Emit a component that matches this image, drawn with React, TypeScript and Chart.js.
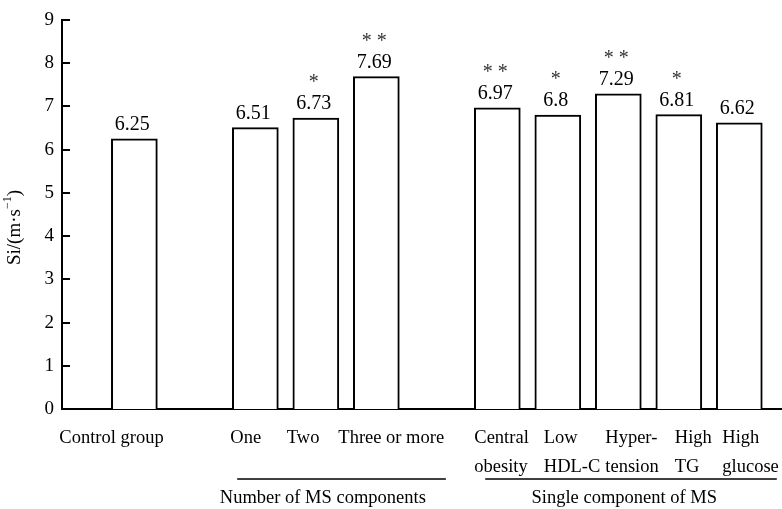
import React, { useEffect, useRef } from 'react';
import { Chart, registerables } from 'chart.js';

Chart.register(...registerables);

// ---- data ----
const categoryLabels: string[][] = [
  ['Control group'],
  ['One'],
  ['Two'],
  ['Three or more'],
  ['Central', 'obesity'],
  ['Low', 'HDL-C'],
  ['Hyper-', 'tension'],
  ['High', 'TG'],
  ['High', 'glucose'],
];
// category slot index on the x axis (gaps separate the groups)
const categorySlots = [0, 2, 3, 4, 6, 7, 8, 9, 10];
const siValues = [6.25, 6.51, 6.73, 7.69, 6.97, 6.8, 7.29, 6.81, 6.62];
const valueLabels = ['6.25', '6.51', '6.73', '7.69', '6.97', '6.8', '7.29', '6.81', '6.62'];
const significance = ['', '', '*', '* *', '* *', '*', '* *', '*', ''];
const groupNames = ['Number of MS components', 'Single component of MS'];
const groupMembers = [
  [1, 2, 3],
  [4, 5, 6, 7, 8],
];
const yTickValues = [0, 1, 2, 3, 4, 5, 6, 7, 8, 9];

// ---- layout / style ----
const FONT = '"Liberation Serif", "Times New Roman", serif';
const X_MIN = -1.196;
const X_MAX = 10.706;
// left edge (px) of each category label relative to its bar centre
const LABEL_LEFT = [-75, -25, -29, -38, -23, -14, -13, -4, -17];
const GROUP_LINE_EXT = [
  [-0.3, 1.15],
  [-0.2, 0.62],
];
const GROUP_TEXT_SHIFT = [7, 6];

const overlayPlugin = {
  id: 'overlay',
  afterDraw(chart: any) {
    const { ctx, chartArea, scales } = chart;
    const x = scales.x;
    const y = scales.y;
    ctx.save();

    // inward y tick marks
    ctx.strokeStyle = '#000';
    ctx.lineWidth = 2;
    for (const v of yTickValues) {
      const py = Math.round(y.getPixelForValue(v));
      ctx.beginPath();
      ctx.moveTo(chartArea.left, py);
      ctx.lineTo(chartArea.left + 8, py);
      ctx.stroke();
    }

    // category labels
    ctx.fillStyle = '#000';
    ctx.font = `18.5px ${FONT}`;
    ctx.textAlign = 'left';
    ctx.textBaseline = 'alphabetic';
    categoryLabels.forEach((lines, i) => {
      const lx = x.getPixelForValue(categorySlots[i]) + LABEL_LEFT[i];
      lines.forEach((line, j) => {
        ctx.fillText(line, lx, chartArea.bottom + 34 + j * 29);
      });
    });

    // value labels and significance marks
    const meta = chart.getDatasetMeta(0);
    meta.data.forEach((bar: any, i: number) => {
      ctx.textAlign = 'center';
      ctx.textBaseline = 'alphabetic';
      ctx.fillStyle = '#000';
      ctx.font = `20px ${FONT}`;
      const base = bar.y - 9;
      ctx.fillText(valueLabels[i], bar.x - 2, base);
      if (significance[i]) {
        ctx.fillStyle = '#333';
        ctx.font = `20px ${FONT}`;
        ctx.fillText(significance[i], bar.x - 2, base - 21);
      }
    });

    // group brackets
    ctx.strokeStyle = '#000';
    ctx.lineWidth = 1.5;
    ctx.fillStyle = '#000';
    ctx.font = `18.5px ${FONT}`;
    ctx.textAlign = 'center';
    ctx.textBaseline = 'middle';
    groupNames.forEach((name, g) => {
      const members = groupMembers[g];
      const first = categorySlots[members[0]];
      const last = categorySlots[members[members.length - 1]];
      const x1 = x.getPixelForValue(first + GROUP_LINE_EXT[g][0]);
      const x2 = x.getPixelForValue(last + GROUP_LINE_EXT[g][1]);
      const ly = chartArea.bottom + 70;
      ctx.beginPath();
      ctx.moveTo(x1, ly);
      ctx.lineTo(x2, ly);
      ctx.stroke();
      const cx = x.getPixelForValue((first + last) / 2) + GROUP_TEXT_SHIFT[g];
      ctx.fillText(name, cx, ly + 19);
    });

    // y axis title with superscript
    ctx.save();
    ctx.translate(15, (chartArea.top + chartArea.bottom) / 2 + 13);
    ctx.rotate(-Math.PI / 2);
    ctx.textBaseline = 'middle';
    ctx.textAlign = 'left';
    const mainFont = `19px ${FONT}`;
    const supFont = `12px ${FONT}`;
    ctx.font = mainFont;
    const p1 = 'Si/(m\u00B7s';
    const p3 = ')';
    const w1 = ctx.measureText(p1).width;
    const w3 = ctx.measureText(p3).width;
    ctx.font = supFont;
    const p2 = '\u22121';
    const w2 = ctx.measureText(p2).width;
    const total = w1 + w2 + w3;
    let cx = -total / 2;
    ctx.font = mainFont;
    ctx.fillText(p1, cx, 0);
    cx += w1;
    ctx.font = supFont;
    ctx.fillText(p2, cx, -7);
    cx += w2;
    ctx.font = mainFont;
    ctx.fillText(p3, cx, 0);
    ctx.restore();

    ctx.restore();
  },
};

export default function App() {
  const canvasRef = useRef<HTMLCanvasElement | null>(null);

  useEffect(() => {
    document.body.style.margin = '0';
    const canvas = canvasRef.current;
    if (!canvas) return;
    const chart = new Chart(canvas, {
      type: 'bar',
      data: {
        datasets: [
          {
            data: categorySlots.map((s, i) => ({ x: s, y: siValues[i] })),
            backgroundColor: '#ffffff',
            borderColor: '#000000',
            borderWidth: 2,
            barThickness: 46,
          },
        ],
      },
      options: {
        responsive: false,
        animation: false,
        devicePixelRatio: 1,
        layout: { padding: { top: 20, left: 0, right: 0, bottom: 0 } },
        plugins: {
          legend: { display: false },
          tooltip: { enabled: false },
        },
        scales: {
          x: {
            type: 'linear',
            min: X_MIN,
            max: X_MAX,
            offset: false,
            grid: { display: false, drawTicks: false, offset: false },
            border: { display: true, color: '#000', width: 2 },
            afterBuildTicks: (axis: any) => {
              axis.ticks = categorySlots.map((v) => ({ value: v }));
            },
            afterFit: (axis: any) => {
              axis.height = 100;
            },
            ticks: { display: false },
          },
          y: {
            type: 'linear',
            min: 0,
            max: 9,
            grid: { display: false, drawTicks: false },
            border: { display: true, color: '#000', width: 2 },
            afterFit: (axis: any) => {
              axis.width = 62;
            },
            ticks: {
              stepSize: 1,
              padding: 8,
              color: '#000',
              font: { family: FONT, size: 19 },
            },
          },
        },
      },
      plugins: [overlayPlugin],
    } as any);
    return () => chart.destroy();
  }, []);

  return (
    <div style={{ width: 782, height: 509, position: 'relative' }}>
      <canvas ref={canvasRef} width={782} height={509} style={{ display: 'block' }} />
    </div>
  );
}
